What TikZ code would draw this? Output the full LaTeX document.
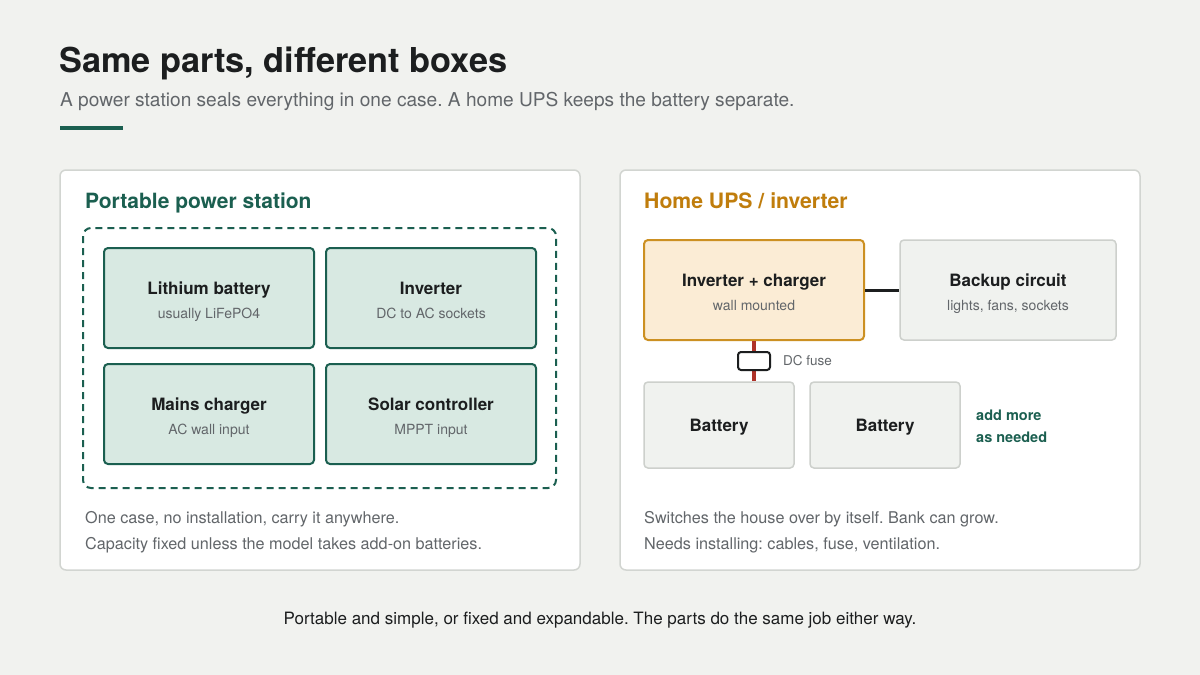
\documentclass[tikz,border=0pt]{standalone}
\usepackage{fontspec}
\setmainfont{TeX Gyre Heros}
\frenchspacing
\usetikzlibrary{positioning}
\definecolor{bg}{HTML}{F1F2EF}
\definecolor{teal}{HTML}{1B5F50}
\definecolor{tealfill}{HTML}{D8E9E2}
\definecolor{ink}{HTML}{1C1E1F}
\definecolor{grey}{HTML}{62666A}
\definecolor{panelline}{HTML}{D2D5D1}
\definecolor{amber}{HTML}{C07D0C}
\definecolor{amberfill}{HTML}{FBECD5}
\definecolor{amberline}{HTML}{CC9022}
\definecolor{boxfill}{HTML}{F0F2EF}
\definecolor{boxline}{HTML}{CDD0CC}
\definecolor{fusered}{HTML}{AE3229}
\tikzset{
  panel/.style={draw=panelline, line width=1.5pt, fill=white, rounded corners=6pt},
  greenbox/.style={draw=teal, line width=2pt, fill=tealfill, rounded corners=4pt, minimum width=210pt, minimum height=100pt},
  ambox/.style={draw=amberline, line width=2pt, fill=amberfill, rounded corners=4pt, minimum width=220pt, minimum height=100pt},
  greybox/.style={draw=boxline, line width=1.5pt, fill=boxfill, rounded corners=4pt},
  boxtitle/.style={font=\fontsize{17}{20}\selectfont\bfseries, text=ink, inner sep=0, anchor=base},
  sub/.style={font=\fontsize{14}{17}\selectfont, text=grey, inner sep=0, anchor=base},
  note/.style={font=\fontsize{16.2}{26}\selectfont, text=grey, anchor=base west, align=left, inner sep=0},
}
\begin{document}
\begin{tikzpicture}[x=1pt,y=-1pt]
\fill[bg] (0,0) rectangle (1200,675);
\useasboundingbox (0,0) rectangle (1200,675);
% header
\node[anchor=base west, inner sep=0, font=\fontsize{34.3}{38}\selectfont\bfseries, text=ink] (title) at (59,72) {Same parts, different boxes};
\node[anchor=base west, inner sep=0, font=\fontsize{19.1}{22}\selectfont, text=grey] (subtitle) at (60,106) {A power station seals everything in one case. A home UPS keeps the battery separate.};
\fill[teal] (60,126) rectangle (123,129.5);
% panels
\draw[panel] (60,170) rectangle (580,570);
\draw[panel] (620,170) rectangle (1140,570);
% left panel
\node[anchor=base west, inner sep=0, font=\fontsize{21}{24}\selectfont\bfseries, text=teal] (lt) at (85,208) {Portable power station};
\draw[teal, line width=2pt, dash pattern=on 7pt off 5pt, rounded corners=8pt] (83,228) rectangle (556,488);
\node[greenbox] (lib) at (209,298) {};
\node[greenbox] (inv) at (431,298) {};
\node[greenbox] (mch) at (209,414) {};
\node[greenbox] (sol) at (431,414) {};
\foreach \n/\t/\s in {lib/{Lithium battery}/{usually LiFePO4}, inv/{Inverter}/{DC to AC sockets}, mch/{Mains charger}/{AC wall input}, sol/{Solar controller}/{MPPT input}}{
  \node[boxtitle] (\n-t) at ([yshift=4pt]\n.center) {\t};
  \node[sub] (\n-s) at ([yshift=-20pt]\n.center) {\s};
}
\node[note] (ln1) at (85,523) {One case, no installation, carry it anywhere.};
\node[note] (ln2) at (85,549) {Capacity fixed unless the model takes add-on batteries.};
% right panel
\node[anchor=base west, inner sep=0, font=\fontsize{21.2}{24}\selectfont\bfseries, text=amber] (rt) at (644,208) {Home UPS / inverter};
\node[ambox] (ic) at (754,290) {};
\node[greybox, minimum width=216pt, minimum height=100pt] (bc) at (1008,290) {};
\node[boxtitle] (ic-t) at ([yshift=4pt]ic.center) {Inverter + charger};
\node[sub] (ic-s) at ([yshift=-20pt]ic.center) {wall mounted};
\node[boxtitle] (bc-t) at ([yshift=4pt]bc.center) {Backup circuit};
\node[sub] (bc-s) at ([yshift=-20pt]bc.center) {lights, fans, sockets};
\node[greybox, minimum width=150pt, minimum height=86pt] (b1) at (719,425) {};
\node[greybox, minimum width=150pt, minimum height=86pt] (b2) at (885,425) {};
\node[boxtitle] (b1-t) at ([yshift=-6pt]b1.center) {Battery};
\node[boxtitle] (b2-t) at ([yshift=-6pt]b2.center) {Battery};
\draw[ink, line width=3pt] (ic.east) -- (bc.west);
\draw[fusered, line width=4pt] (ic.south) -- (ic.south |- b1.north);
\node[draw=ink, line width=2pt, fill=white, rounded corners=3pt, minimum width=32pt, minimum height=18pt, inner sep=0] (fuse) at (754,361) {};
\node[anchor=west, inner sep=0, font=\fontsize{13.5}{16}\selectfont, text=grey] (fl) at ([xshift=12pt]fuse.east) {DC fuse};
\node[anchor=west, inner sep=0, font=\fontsize{14.5}{22}\selectfont\bfseries, text=teal, align=left] (more) at (976,426) {add more\\as needed};
\node[note] (rn1) at (644,523) {Switches the house over by itself. Bank can grow.};
\node[note] (rn2) at (644,549) {Needs installing: cables, fuse, ventilation.};
% caption
\node[font=\fontsize{17}{20}\selectfont, text=ink, inner sep=0, anchor=base] (cap) at (600,624) {Portable and simple, or fixed and expandable. The parts do the same job either way.};
\end{tikzpicture}
\end{document}
